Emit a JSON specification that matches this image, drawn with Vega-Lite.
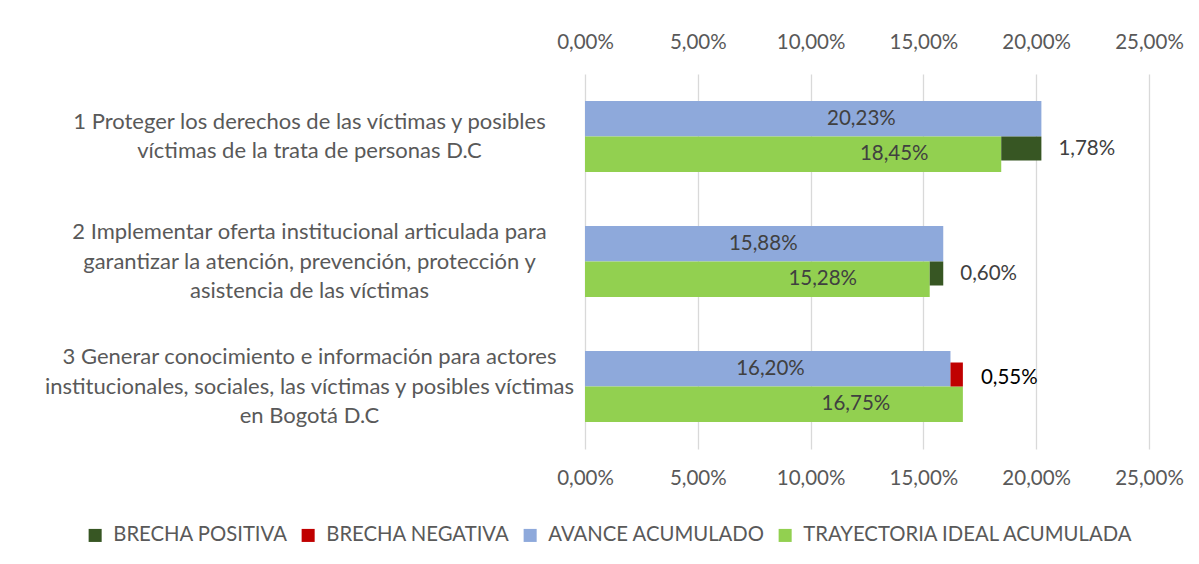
{
  "$schema": "https://vega.github.io/schema/vega-lite/v6.json",
  "width": 564,
  "height": 375,
  "autosize": {"type": "none"},
  "padding": {"left": 585, "top": 74, "right": 50, "bottom": 115},
  "background": "white",
  "config": {
    "locale": {"number": {"decimal": ",", "thousands": ".", "grouping": [3], "currency": ["", " €"]}},
    "font": "Lato",
    "view": {"stroke": null},
    "text": {"font": "Lato"}
  },
  "datasets": {
    "bars": [
      {"cat": "1 Proteger los derechos de las víctimas y posibles|víctimas de la trata de personas D.C", "serie": "AVANCE ACUMULADO", "value": 0.2023},
      {"cat": "1 Proteger los derechos de las víctimas y posibles|víctimas de la trata de personas D.C", "serie": "TRAYECTORIA IDEAL ACUMULADA", "value": 0.1845},
      {"cat": "2 Implementar oferta institucional articulada para|garantizar la atención, prevención, protección y|asistencia de las víctimas", "serie": "AVANCE ACUMULADO", "value": 0.1588},
      {"cat": "2 Implementar oferta institucional articulada para|garantizar la atención, prevención, protección y|asistencia de las víctimas", "serie": "TRAYECTORIA IDEAL ACUMULADA", "value": 0.1528},
      {"cat": "3 Generar conocimiento e información para  actores|institucionales, sociales, las víctimas y posibles víctimas|en Bogotá D.C", "serie": "AVANCE ACUMULADO", "value": 0.1620},
      {"cat": "3 Generar conocimiento e información para  actores|institucionales, sociales, las víctimas y posibles víctimas|en Bogotá D.C", "serie": "TRAYECTORIA IDEAL ACUMULADA", "value": 0.1675}
    ],
    "gaps": [
      {"cat": "1 Proteger los derechos de las víctimas y posibles|víctimas de la trata de personas D.C", "avance": 0.2023, "ideal": 0.1845, "brecha": 0.0178},
      {"cat": "2 Implementar oferta institucional articulada para|garantizar la atención, prevención, protección y|asistencia de las víctimas", "avance": 0.1588, "ideal": 0.1528, "brecha": 0.0060},
      {"cat": "3 Generar conocimiento e información para  actores|institucionales, sociales, las víctimas y posibles víctimas|en Bogotá D.C", "avance": 0.1620, "ideal": 0.1675, "brecha": 0.0055}
    ]
  },
  "encoding": {
    "y": {
      "field": "cat", "type": "nominal", "title": null,
      "scale": {"paddingInner": 0, "paddingOuter": 0},
      "axis": {
        "labelExpr": "split(datum.label, '|')",
        "labelAlign": "center", "labelBaseline": "middle",
        "labelOffset": {"condition": {"test": "indexof(datum.value, '1 Proteger') === 0", "value": -15}, "value": -29.5},
        "labelPadding": 276, "tickSize": 0, "ticks": false, "domain": false, "grid": false,
        "labelFont": "Lato", "labelFontSize": 22, "labelColor": "#595959",
        "labelLineHeight": 29.5, "labelLimit": 700, "labelOverlap": false
      }
    }
  },
  "layer": [
    {
      "data": {"name": "bars"},
      "mark": {"type": "bar"},
      "encoding": {
        "yOffset": {
          "field": "serie", "type": "nominal",
          "scale": {"domain": ["AVANCE ACUMULADO", "TRAYECTORIA IDEAL ACUMULADA"], "paddingInner": 0, "paddingOuter": 0.76}
        },
        "x": {
          "field": "value", "type": "quantitative", "title": null,
          "scale": {"domain": [0, 0.25], "nice": false, "zero": true},
          "axis": {
            "orient": "bottom", "format": ".2%", "values": [0, 0.05, 0.1, 0.15, 0.2, 0.25],
            "grid": true, "gridColor": "#D9D9D9", "gridWidth": 1.3, "domain": false, "ticks": false, "tickSize": 0,
            "labelFlush": false, "labelPadding": 19, "labelFont": "Lato", "labelFontSize": 20.5, "labelColor": "#595959"
          }
        },
        "color": {
          "field": "serie", "type": "nominal",
          "scale": {
            "domain": ["BRECHA POSITIVA", "BRECHA NEGATIVA", "AVANCE ACUMULADO", "TRAYECTORIA IDEAL ACUMULADA"],
            "range": ["#375623", "#C00000", "#8EA9DB", "#92D050"]
          },
          "legend": {
            "orient": "none", "legendX": -500, "legendY": 451, "direction": "horizontal",
            "title": null, "symbolType": "square", "symbolSize": 170, "symbolStrokeWidth": 0,
            "labelFont": "Lato", "labelFontSize": 20.3, "labelColor": "#595959", "labelLimit": 500,
            "labelOffset": 8, "columnPadding": 10
          }
        }
      }
    },
    {
      "data": {"name": "bars"},
      "transform": [{"filter": "datum.serie === 'AVANCE ACUMULADO'"}],
      "mark": {"type": "text", "align": "center", "baseline": "middle", "dx": -180, "fontSize": 20.5, "color": "#404040", "font": "Lato"},
      "encoding": {
        "yOffset": {"field": "serie", "type": "nominal"},
        "x": {
          "field": "value", "type": "quantitative",
          "scale": {"domain": [0, 0.25], "nice": false},
          "axis": {
            "orient": "top", "format": ".2%", "values": [0, 0.05, 0.1, 0.15, 0.2, 0.25],
            "grid": false, "domain": false, "ticks": false, "tickSize": 0, "title": null,
            "labelFlush": false, "labelPadding": 22, "labelFont": "Lato", "labelFontSize": 20.5, "labelColor": "#595959"
          }
        },
        "text": {"field": "value", "type": "quantitative", "format": ".2%"}
      }
    },
    {
      "data": {"name": "bars"},
      "transform": [{"filter": "datum.serie === 'TRAYECTORIA IDEAL ACUMULADA'"}],
      "mark": {"type": "text", "align": "center", "baseline": "middle", "dx": -107, "fontSize": 20.5, "color": "#404040", "font": "Lato"},
      "encoding": {
        "yOffset": {"field": "serie", "type": "nominal"},
        "x": {"field": "value", "type": "quantitative", "axis": null, "scale": {"domain": [0, 0.25], "nice": false}},
        "text": {"field": "value", "type": "quantitative", "format": ".2%"}
      }
    },
    {
      "data": {"name": "gaps"},
      "transform": [{"filter": "datum.avance >= datum.ideal"}],
      "mark": {"type": "bar", "height": 24, "yOffset": 12},
      "encoding": {
        "x": {"field": "ideal", "type": "quantitative", "axis": null, "scale": {"domain": [0, 0.25], "nice": false}},
        "x2": {"field": "avance"},
        "color": {"datum": "BRECHA POSITIVA"}
      }
    },
    {
      "data": {"name": "gaps"},
      "transform": [{"filter": "datum.avance >= datum.ideal"}],
      "mark": {"type": "text", "align": "left", "baseline": "middle", "dx": 17, "yOffset": 12, "fontSize": 20.5, "color": "#404040", "font": "Lato"},
      "encoding": {
        "x": {"field": "avance", "type": "quantitative", "axis": null, "scale": {"domain": [0, 0.25], "nice": false}},
        "text": {"field": "brecha", "type": "quantitative", "format": ".2%"}
      }
    },
    {
      "data": {"name": "gaps"},
      "transform": [{"filter": "datum.avance < datum.ideal"}],
      "mark": {"type": "bar", "height": 24, "yOffset": -12},
      "encoding": {
        "x": {"field": "avance", "type": "quantitative", "axis": null, "scale": {"domain": [0, 0.25], "nice": false}},
        "x2": {"field": "ideal"},
        "color": {"datum": "BRECHA NEGATIVA"}
      }
    },
    {
      "data": {"name": "gaps"},
      "transform": [{"filter": "datum.avance < datum.ideal"}],
      "mark": {"type": "text", "align": "left", "baseline": "middle", "dx": 18, "yOffset": -9, "fontSize": 20.5, "color": "#000000", "font": "Lato"},
      "encoding": {
        "x": {"field": "ideal", "type": "quantitative", "axis": null, "scale": {"domain": [0, 0.25], "nice": false}},
        "text": {"field": "brecha", "type": "quantitative", "format": ".2%"}
      }
    }
  ],
  "resolve": {"axis": {"x": "independent"}}
}
